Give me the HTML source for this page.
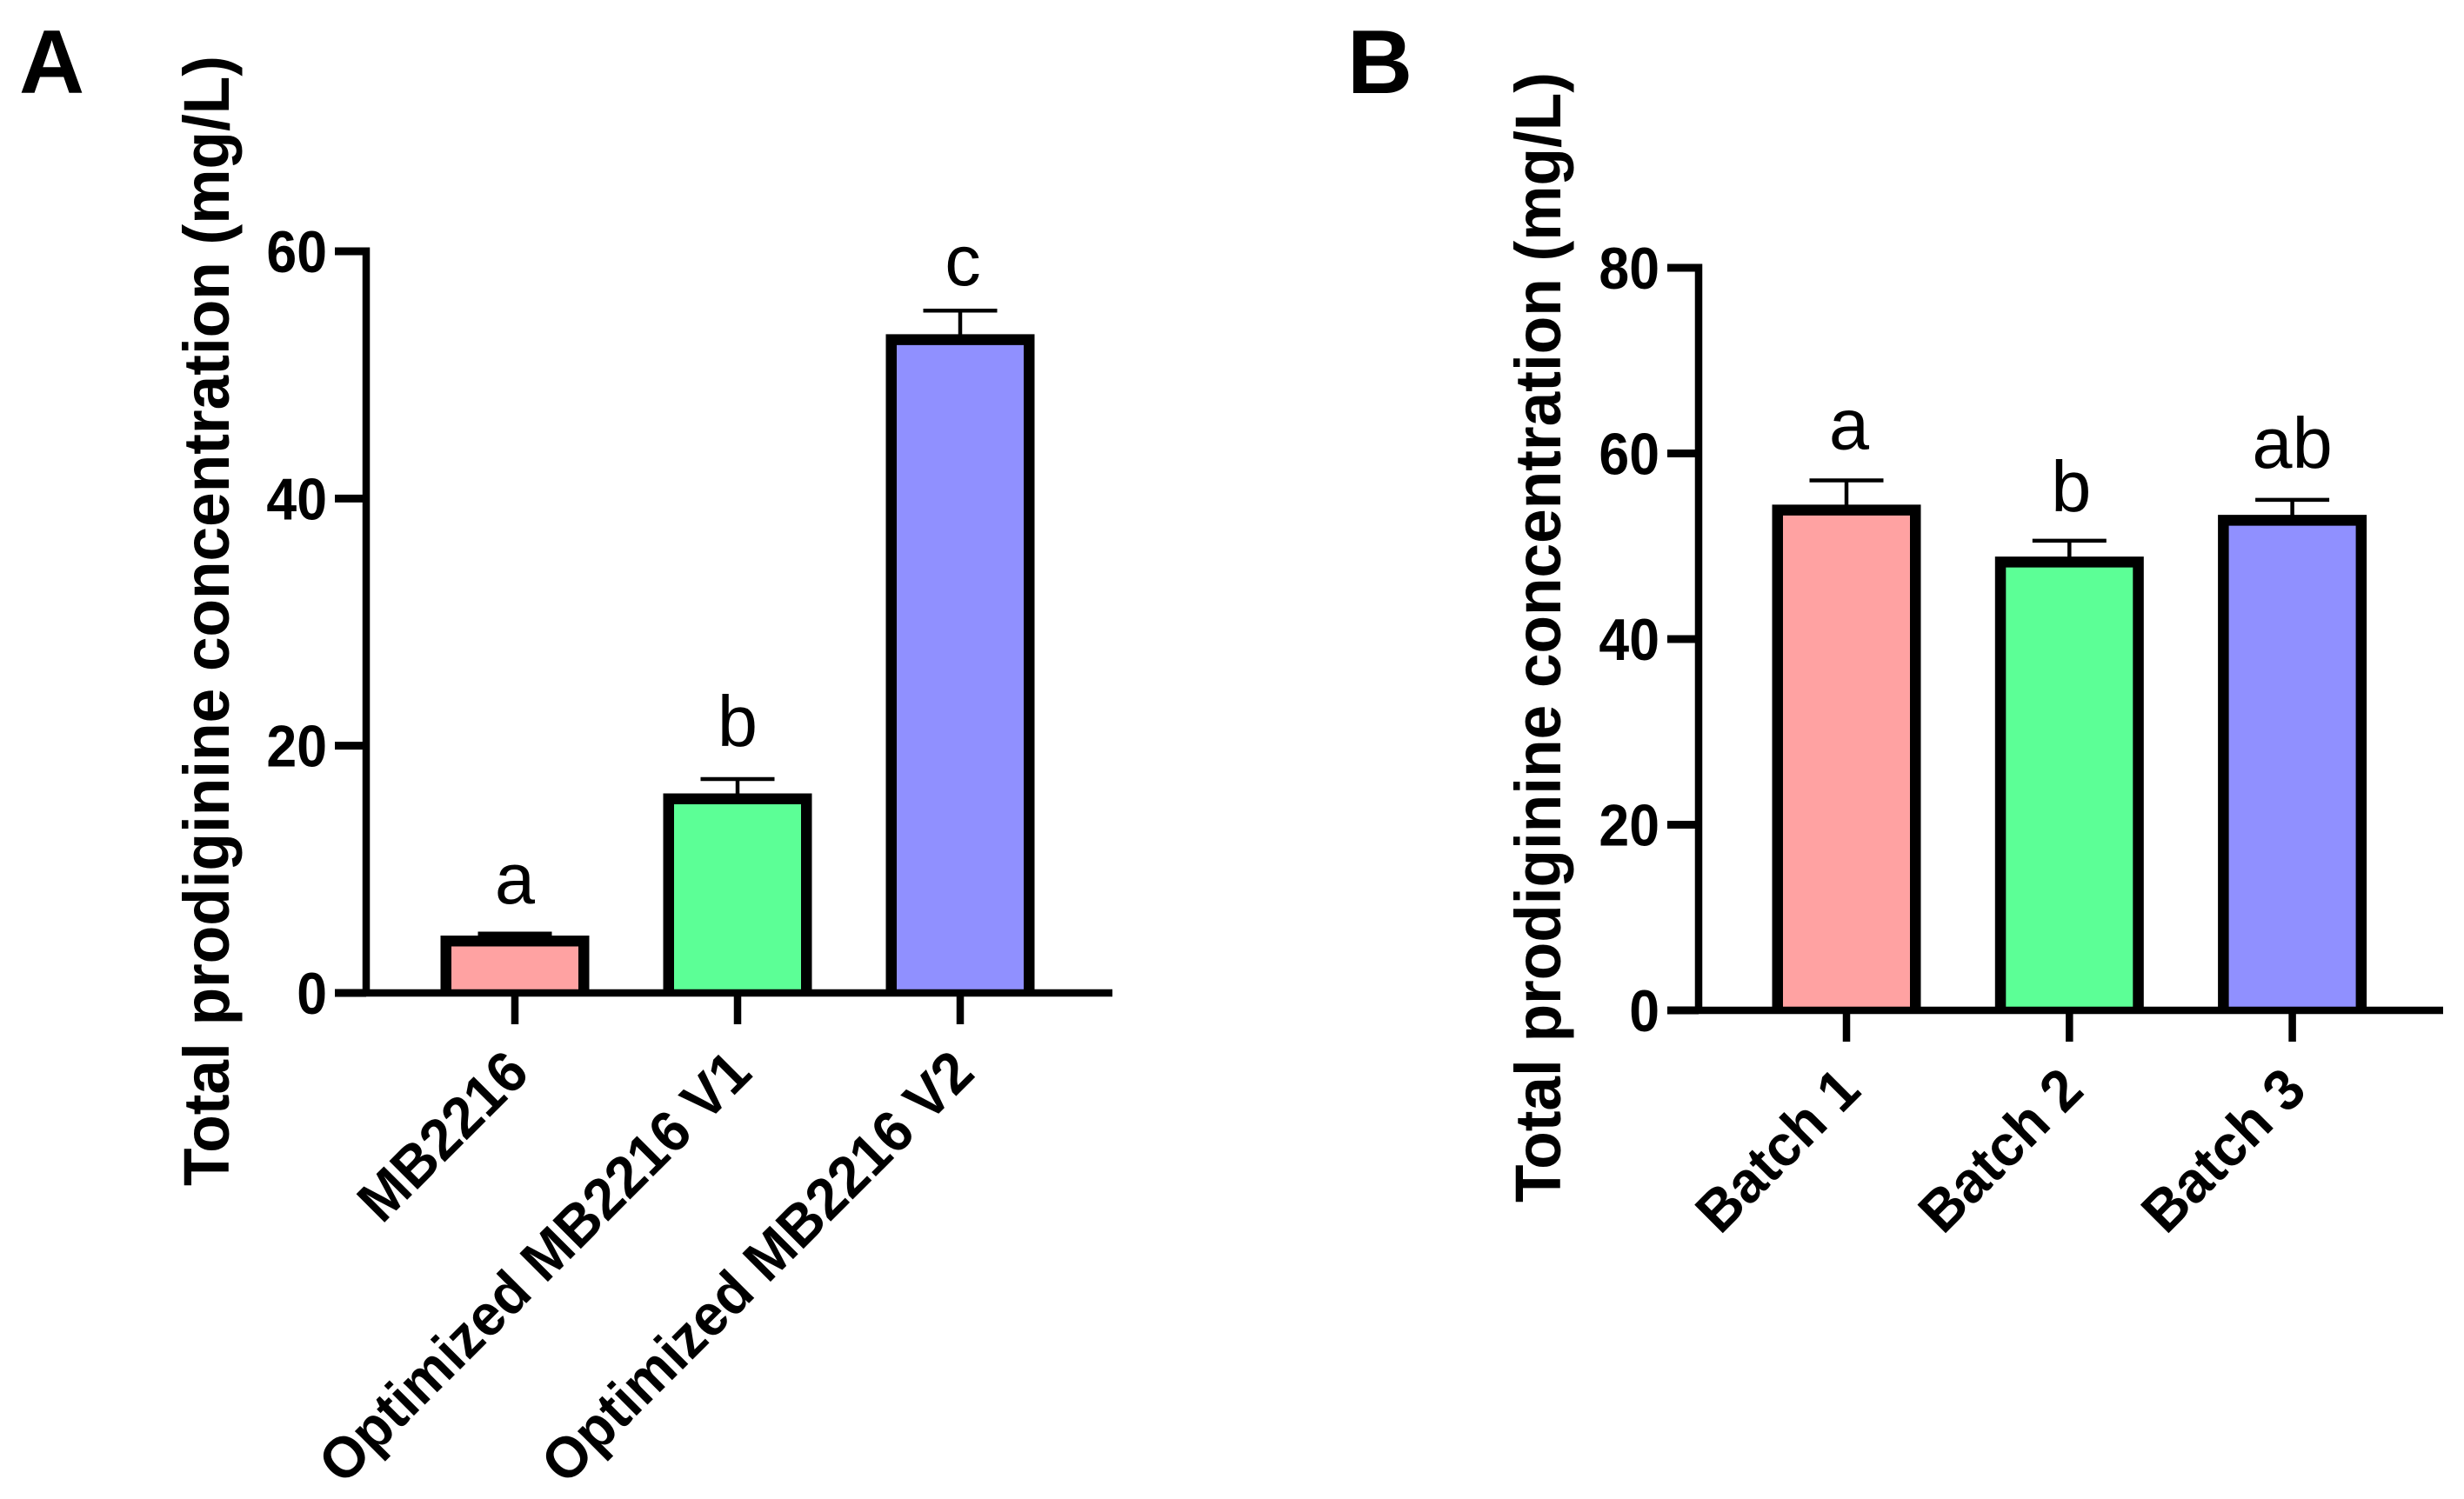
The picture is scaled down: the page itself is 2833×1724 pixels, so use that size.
<!DOCTYPE html>
<html>
<head>
<meta charset="utf-8">
<title>Total prodiginine concentration</title>
<style>
html,body{margin:0;padding:0;background:#fff;width:2833px;height:1724px;overflow:hidden}
svg{display:block}
text{font-family:"Liberation Sans",Arial,sans-serif;fill:#000}
</style>
</head>
<body>
<svg id="figure" width="2833" height="1724" viewBox="0 0 2833 1724" xmlns="http://www.w3.org/2000/svg"></svg>
<script>
const yTitleText = 'Total prodiginine concentration (mg/L)';

const categoriesA = ['MB2216', 'Optimized MB2216 V1', 'Optimized MB2216 V2'];
const valuesA = [4.2, 15.7, 52.85];
const errorsA = [0.6, 1.6, 2.35];
const lettersA = ['a', 'b', 'c'];
const ticksA = [0, 20, 40, 60];

const categoriesB = ['Batch 1', 'Batch 2', 'Batch 3'];
const valuesB = [53.9, 48.3, 52.8];
const errorsB = [3.2, 2.3, 2.2];
const lettersB = ['a', 'b', 'ab'];
const ticksB = [0, 20, 40, 60, 80];

const barColors = ['#FFA2A2', '#5CFF96', '#9090FF'];

const svg = document.getElementById('figure');
const NS = 'http://www.w3.org/2000/svg';

function make(tag, attrs, parent, txt) {
  const el = document.createElementNS(NS, tag);
  for (const k in attrs) el.setAttribute(k, attrs[k]);
  if (txt !== undefined) el.textContent = txt;
  parent.appendChild(el);
  return el;
}

function drawPanel(p) {
  const g = make('g', {}, svg);
  
  

  const yScale = v => p.y0 - (v / p.yMax) * (p.y0 - p.yTop);
  const xScale = i => p.xFirst + i * p.xStep;

  const panelLabel = make('text', {x: p.labelX, y: 107, 'font-size': 104, 'font-weight': 'bold'}, g, p.id);
  
  

  const title = make('text', {
    transform: 'translate(' + p.titleX + ',' + p.titleBottom + ') rotate(-90)',
    'font-size': 74, 'font-weight': 'bold', textLength: 1300, lengthAdjust: 'spacingAndGlyphs'
  }, g, yTitleText);
  
  

  // bars
  p.values.forEach((v, i) => {
    const cx = xScale(i), top = yScale(v), hw = (p.barW - 12.5) / 2;
    const bar = make('path', {
      d: 'M' + (cx - hw) + ' ' + p.y0 + 'V' + top + 'H' + (cx + hw) + 'V' + p.y0,
      fill: barColors[i], stroke: '#000', 'stroke-width': 12.5, 'stroke-linejoin': 'miter', 'stroke-linecap': 'butt'
    }, g);
    
    

    const capY = yScale(v + p.errors[i]);
    const stem = make('line', {x1: cx, x2: cx, y1: top, y2: capY, stroke: '#000', 'stroke-width': 4.5}, g);
    
    

    const cap = make('line', {x1: cx - 42.5, x2: cx + 42.5, y1: capY, y2: capY, stroke: '#000', 'stroke-width': 4.5}, g);
    
    

    const letter = make('text', {x: cx + p.letterShift[i], y: capY - p.letterGap[i], 'font-size': 83, 'text-anchor': 'middle'}, g, p.letters[i]);
    
    

    const tick = make('line', {x1: cx, x2: cx, y1: p.y0, y2: p.y0 + 36, stroke: '#000', 'stroke-width': 8.5}, g);
    
    

    const label = make('text', {
      transform: 'translate(' + (cx + p.catDx) + ',' + (p.y0 + p.catDy) + ') rotate(-45) scale(0.96,1)',
      'font-size': 67, 'font-weight': 'bold', 'text-anchor': 'end'
    }, g, p.categories[i]);
    
    
  });

  // axes
  const yAxis = make('line', {x1: p.xAxis, x2: p.xAxis, y1: yScale(p.yMax) - 4.5, y2: p.y0, stroke: '#000', 'stroke-width': 8.5}, g);
  
  

  const xAxis = make('line', {x1: p.xAxis - 36, x2: p.xEnd, y1: p.y0, y2: p.y0, stroke: '#000', 'stroke-width': 8.5}, g);
  
  

  p.ticks.forEach(t => {
    const y = yScale(t);
    const tick = make('line', {x1: p.xAxis - 36, x2: p.xAxis, y1: y, y2: y, stroke: '#000', 'stroke-width': 9}, g);
    
    

    const lab = make('text', {
      transform: 'translate(' + (p.xAxis - 45) + ',' + (y + 24) + ') scale(0.92,1)',
      'font-size': 68, 'font-weight': 'bold', 'text-anchor': 'end'
    }, g, String(t));
    
    
  });
}

drawPanel({
  id: 'A', labelX: 22, titleX: 263, titleBottom: 1364,
  xAxis: 421, xEnd: 1279, y0: 1142, yTop: 289, yMax: 60,
  xFirst: 592, xStep: 256, barW: 171, catDx: 19, catDy: 95,
  letterGap: [35, 38, 29], letterShift: [0, 0, 3],
  categories: categoriesA, values: valuesA, errors: errorsA, letters: lettersA, ticks: ticksA
});

drawPanel({
  id: 'B', labelX: 1549, titleX: 1794, titleBottom: 1383,
  xAxis: 1953, xEnd: 2809, y0: 1162, yTop: 308, yMax: 80,
  xFirst: 2123, xStep: 256.3, barW: 171, catDx: 19, catDy: 95,
  letterGap: [36, 34, 37], letterShift: [3, 2, 0],
  categories: categoriesB, values: valuesB, errors: errorsB, letters: lettersB, ticks: ticksB
});
</script>
</body>
</html>
